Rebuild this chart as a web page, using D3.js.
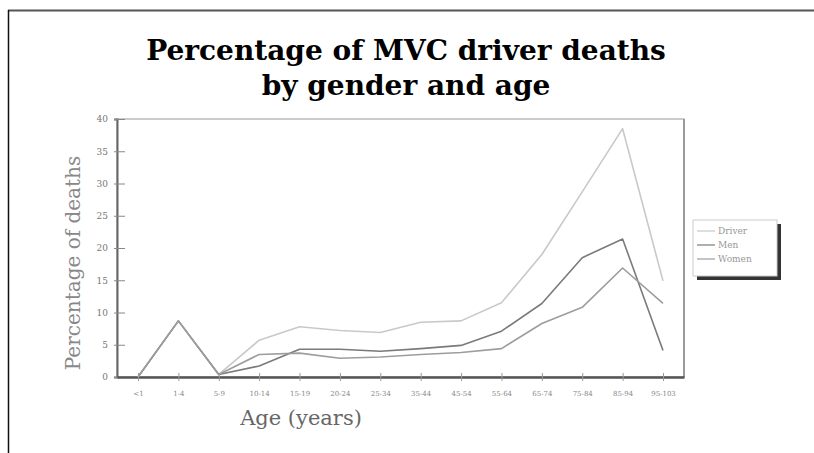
<!DOCTYPE html>
<html>
<head>
<meta charset="utf-8">
<script src="https://cdn.jsdelivr.net/npm/d3@7/dist/d3.min.js"></script>
<style>
  body { margin: 0; background: #fff; }
  svg { display: block; }
</style>
</head>
<body>
<div class="canvas"></div>
<script>
var ages = ["<1", "1-4", "5-9", "10-14", "15-19", "20-24", "25-34", "35-44",
            "45-54", "55-64", "65-74", "75-84", "85-94", "95-103"];
var drivers = [0, 8.7, 0.4, 5.7, 7.8, 7.2, 6.9, 8.5, 8.7, 11.5, 19, 28.7, 38.5, 14.9];
var men     = [0, 8.7, 0.4, 1.7, 4.3, 4.3, 4.0, 4.4, 4.9, 7.1, 11.4, 18.5, 21.4, 4.1];
var women   = [0, 8.7, 0.4, 3.5, 3.7, 2.9, 3.1, 3.5, 3.8, 4.4, 8.3, 10.8, 16.9, 11.4];
var seriesNames = ["Driver", "Men", "Women"];
var yTicks = [0, 5, 10, 15, 20, 25, 30, 35, 40];

function init() {
    var series = [
        {name: seriesNames[0], values: drivers, color: "#c9c9c9"},
        {name: seriesNames[1], values: men, color: "#7a7a7a"},
        {name: seriesNames[2], values: women, color: "#9d9d9d"}
    ];

    var width = 814,
        height = 453;
    var pLeft = 117, pRight = 684, pTop = 119, pBottom = 377;

    var svg = d3.select(".canvas").append("svg")
        .attr("width", width)
        .attr("height", height);

    // page frame
    svg.append("line").attr("x1", 8).attr("x2", width).attr("y1", 10.5).attr("y2", 10.5)
       .attr("stroke", "#555").attr("stroke-width", 2);
    svg.append("line").attr("x1", 8.5).attr("x2", 8.5).attr("y1", 10).attr("y2", height)
       .attr("stroke", "#111").attr("stroke-width", 1.5);

    // title
    var title = svg.append("text")
        .attr("text-anchor", "middle")
        .style("font-family", "'DejaVu Serif', serif")
        .style("font-weight", "bold")
        .style("font-size", "28px")
        .attr("fill", "#000");
    title.append("tspan").attr("x", 406).attr("y", 60).text("Percentage of MVC driver deaths");
    title.append("tspan").attr("x", 406).attr("y", 95).text("by gender and age");

    var x = d3.scalePoint().domain(ages).range([pLeft, pRight]).padding(0.52);
    var y = d3.scaleLinear().domain([0, 40]).range([pBottom, pTop]);

    // plot frame
    svg.append("rect")
       .attr("x", pLeft).attr("y", pTop)
       .attr("width", pRight - pLeft).attr("height", pBottom - pTop)
       .attr("fill", "none").attr("stroke", "#bbb").attr("stroke-width", 1.5);
    svg.append("line").attr("x1", pRight).attr("x2", pRight).attr("y1", pTop).attr("y2", pBottom)
       .attr("stroke", "#8a8a8a").attr("stroke-width", 1.5);

    // y axis
    var yAxis = svg.append("g")
        .attr("transform", "translate(" + pLeft + ",0)")
        .call(d3.axisLeft(y).tickValues(yTicks).tickSize(3).tickPadding(6));
    yAxis.select(".domain").attr("stroke", "#666").attr("stroke-width", 2);
    yAxis.selectAll(".tick line").attr("x1", -3).attr("x2", 8).attr("stroke", "#888");
    yAxis.selectAll(".tick text")
         .style("font-family", "'DejaVu Serif', serif").style("font-size", "9px").attr("fill", "#777");

    // x axis
    var xAxis = svg.append("g")
        .attr("transform", "translate(0," + pBottom + ")")
        .call(d3.axisBottom(x).tickSize(4).tickPadding(10).tickSizeOuter(0));
    xAxis.select(".domain").attr("stroke", "#555").attr("stroke-width", 2.5);
    xAxis.selectAll(".tick line").attr("y1", -4).attr("y2", 4).attr("stroke", "#999");
    xAxis.selectAll(".tick text")
         .style("font-family", "'DejaVu Serif', serif").style("font-size", "7px").attr("fill", "#888");

    // axis titles
    svg.append("text")
       .attr("transform", "translate(80," + ((pTop + pBottom) / 2 + 15) + ") rotate(-90)")
       .attr("text-anchor", "middle")
       .style("font-family", "'DejaVu Serif', serif").style("font-size", "20px")
       .attr("fill", "#888")
       .text("Percentage of deaths");
    svg.append("text")
       .attr("x", 301).attr("y", 425)
       .attr("text-anchor", "middle")
       .style("font-family", "'DejaVu Serif', serif").style("font-size", "21px")
       .attr("fill", "#666")
       .text("Age (years)");

    // lines
    var line = d3.line()
        .x(function (d, i) { return x(ages[i]); })
        .y(function (d) { return y(d); });

    series.forEach(function (s) {
        svg.append("path")
           .attr("d", line(s.values))
           .attr("fill", "none")
           .attr("stroke", s.color)
           .attr("stroke-width", 1.6)
           .attr("stroke-linejoin", "round");
    });

    // legend
    var lx = 693, ly = 220, lw = 84, lh = 56;
    svg.append("rect").attr("x", lx + 4).attr("y", ly + 4).attr("width", lw).attr("height", lh)
       .attr("fill", "#333");
    svg.append("rect").attr("x", lx).attr("y", ly).attr("width", lw).attr("height", lh)
       .attr("fill", "#fff").attr("stroke", "#ccc");
    series.forEach(function (s, i) {
        var yy = ly + 11 + i * 14;
        svg.append("line").attr("x1", lx + 4).attr("x2", lx + 22).attr("y1", yy).attr("y2", yy)
           .attr("stroke", s.color).attr("stroke-width", 1.2);
        svg.append("text").attr("x", lx + 25).attr("y", yy + 3)
           .style("font-family", "'DejaVu Serif', serif").style("font-size", "9px")
           .attr("fill", "#999")
           .text(s.name);
    });
}

init();
</script>
</body>
</html>
